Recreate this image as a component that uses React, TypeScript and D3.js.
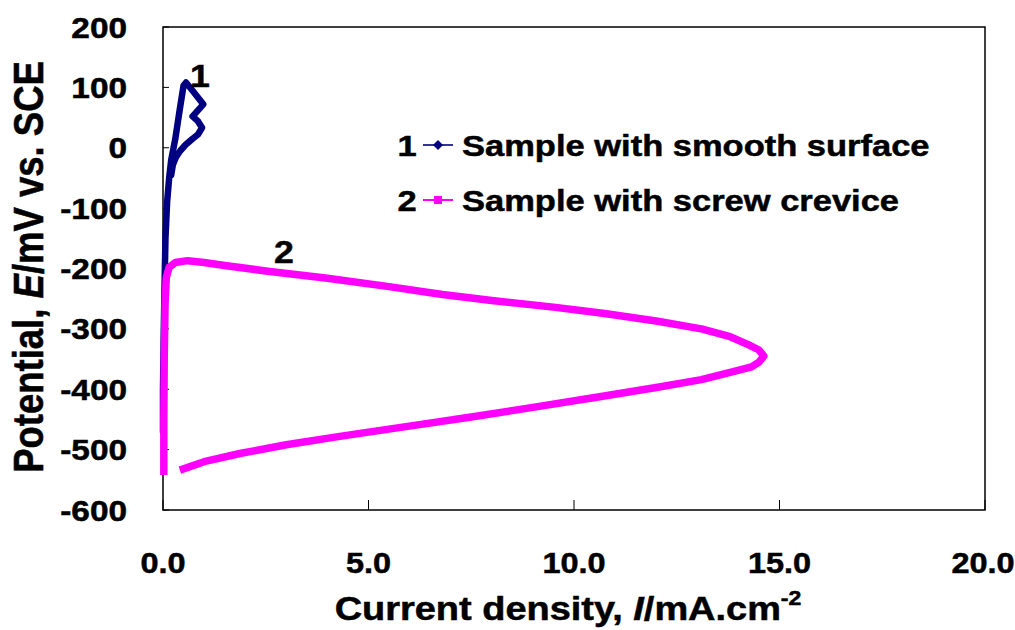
import React from "react";
import * as d3 from "d3";

// Curve 1: sample with smooth surface [current density mA/cm2, potential mV]
const smoothI = [0.0, 0.0, 0.02, 0.04, 0.06, 0.1, 0.15, 0.2, 0.3, 0.4, 0.5, 0.56, 0.75, 0.98, 0.85, 0.72, 0.85, 0.95, 0.85, 0.72, 0.55, 0.42, 0.32, 0.24, 0.2];
const smoothE = [-470, -400, -300, -220, -150, -90, -50, -20, 15, 60, 103, 108, 92, 72, 62, 52, 44, 33, 22, 15, 5, -5, -15, -28, -45];

// Curve 2: sample with screw crevice
const creviceI = [0.02, 0.02, 0.03, 0.05, 0.08, 0.15, 0.3, 0.6, 1.0, 1.5, 2.5, 4.0, 5.5, 6.8, 8.0, 9.5, 10.7, 12.0, 13.1, 13.8, 14.24, 14.5, 14.62, 14.5, 14.32, 13.8, 13.1, 12.0, 10.66, 9.0, 7.5, 6.2, 5.0, 4.3, 3.0, 1.9, 1.0, 0.41];
const creviceE = [-542, -450, -350, -260, -215, -198, -190, -187, -190, -195, -204, -216, -230, -243, -253, -264, -274, -287, -300, -313, -326, -335, -345, -355, -363, -372, -384, -397, -412, -430, -446, -459, -471, -478, -492, -506, -520, -534];

const xTicks = [0, 5, 10, 15, 20];
const yTicks = [200, 100, 0, -100, -200, -300, -400, -500, -600];

const seriesLabels = ["Sample with smooth surface", "Sample with screw crevice"];
const seriesColors = ["#000080", "#FF00FF"];

const SX = 1.15;
const FONT = "'Liberation Sans', Arial, sans-serif";

export default function App() {
  const x = d3.scaleLinear().domain([0, 20]).range([163, 985]);
  const y = d3.scaleLinear().domain([-600, 200]).range([510, 27]);
  const line = d3
    .line<[number, number]>()
    .x((d) => x(d[0]))
    .y((d) => y(d[1]));
  const smooth: [number, number][] = smoothI.map((v, i) => [v, smoothE[i]]);
  const crevice: [number, number][] = creviceI.map((v, i) => [v, creviceE[i]]);

  const T = (props: {
    x: number;
    y: number;
    size: number;
    anchor?: string;
    sx?: number;
    children: React.ReactNode;
  }) => (
    <text
      transform={`translate(${props.x},${props.y}) scale(${props.sx ?? SX},1)`}
      fontFamily={FONT}
      fontWeight="bold"
      fontSize={props.size}
      textAnchor={props.anchor || "start"}
      fill="#000"
      stroke="#000"
      strokeWidth={0.5}
    >
      {props.children}
    </text>
  );

  return (
    <svg
      width={1015}
      height={630}
      style={{ position: "absolute", left: 0, top: 0, background: "#fff" }}
    >
      <rect x={0} y={0} width={1015} height={630} fill="#fff" />
      {/* plot box */}
      <rect
        x={x(0)}
        y={y(200)}
        width={x(20) - x(0)}
        height={y(-600) - y(200)}
        fill="none"
        stroke="#000"
        strokeWidth={1.5}
      />
      {/* ticks */}
      {yTicks.map((t) => (
        <line key={"yt" + t} x1={x(0)} x2={x(0) + 6} y1={y(t)} y2={y(t)} stroke="#000" strokeWidth={1} />
      ))}
      {xTicks.map((t) => (
        <line key={"xt" + t} x1={x(t)} x2={x(t)} y1={y(-600)} y2={y(-600) - 10} stroke="#000" strokeWidth={1} />
      ))}
      {/* tick labels */}
      {yTicks.map((t) => (
        <T key={"yl" + t} x={127} y={y(t) + 10.5} size={29} anchor="end">
          {String(t)}
        </T>
      ))}
      {xTicks.map((t) => (
        <T key={"xl" + t} x={x(t) - (t === 20 ? 2 : 0)} y={573} size={29} sx={1.12} anchor="middle">
          {t.toFixed(1)}
        </T>
      ))}
      {/* axis titles */}
      <text
        transform={`translate(568,620) scale(${SX},1)`}
        fontFamily={FONT}
        fontWeight="bold"
        fontSize={33}
        textAnchor="middle"
        stroke="#000"
        strokeWidth={0.5}
      >
        Current density, <tspan fontStyle="italic">I</tspan>/mA.cm
        <tspan fontSize={20} dy={-15}>-2</tspan>
      </text>
      <text
        transform={`translate(43,267) scale(${SX},1) rotate(-90)`}
        fontFamily={FONT}
        fontWeight="bold"
        fontSize={36.5}
        textAnchor="middle"
        stroke="#000"
        strokeWidth={0.5}
      >
        Potential, <tspan fontStyle="italic">E</tspan>/mV vs. SCE
      </text>
      {/* curves */}
      <path d={line(smooth) || ""} fill="none" stroke={seriesColors[0]} strokeWidth={6.5} strokeLinejoin="round" strokeLinecap="round" />
      <path d={line(crevice) || ""} fill="none" stroke={seriesColors[1]} strokeWidth={7.5} strokeLinejoin="round" strokeLinecap="butt" />
      {/* curve annotations */}
      <T x={200} y={87} size={31} anchor="middle">1</T>
      <T x={284} y={263} size={31} anchor="middle">2</T>
      {/* legend */}
      {seriesLabels.map((s, i) => {
        const ly = i === 0 ? 145 : 200;
        return (
          <g key={s}>
            <T x={407} y={ly + 11} size={30} anchor="middle">{String(i + 1)}</T>
            <line x1={423} x2={453} y1={ly} y2={ly} stroke={i === 0 ? "#333399" : "#FF00FF"} strokeWidth={2} />
            {i === 0 ? (
              <path d={`M438,${ly - 5}L443,${ly}L438,${ly + 5}L433,${ly}Z`} fill="#000080" />
            ) : (
              <rect x={434} y={ly - 4} width={8} height={8} fill="#FF00FF" />
            )}
            <T x={462} y={ly + 11} size={30}>{s}</T>
          </g>
        );
      })}
    </svg>
  );
}
